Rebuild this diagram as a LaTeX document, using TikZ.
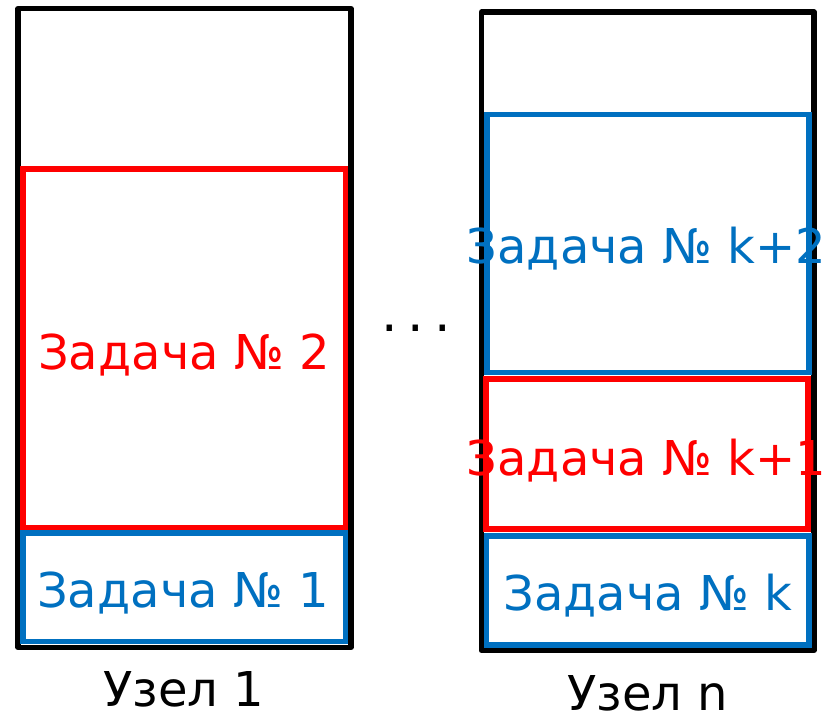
\documentclass[tikz,border=0pt]{standalone}
\usepackage{fontspec}
\setmainfont{DejaVu Sans}
\definecolor{taskblue}{HTML}{0070C0}
\definecolor{taskred}{HTML}{FF0000}
\tikzset{
  nodebox/.style={draw=black, line width=5.2pt, line join=round},
  bluebox/.style={draw=taskblue, line width=5.2pt},
  redbox/.style={draw=taskred, line width=5.2pt},
  tasktext/.style={anchor=base, inner sep=0pt, font=\fontsize{48}{58}\selectfont},
}
\begin{document}
\begin{tikzpicture}[x=1pt, y=-1pt]
\useasboundingbox (0,0) rectangle (825,715);
% node 1
\draw[nodebox] (18,8.5) rectangle (351,647.5);
\draw[redbox] (23,169) rectangle (345.5,527.5);
\draw[bluebox] (23,533) rectangle (345.5,641.5);
\node[tasktext, text=taskred] (t2) at (184,369) {Задача № 2};
\node[tasktext, text=taskblue] (t1) at (183,607) {Задача № 1};
\node[tasktext] (n1) at (184,706) {Узел 1};
% ellipsis between the nodes
\node[tasktext, font=\fontsize{52}{60}\selectfont] (dots) at (416,331) {.\hspace{10pt}.\hspace{10pt}.};
% node n
\draw[nodebox] (481.5,12) rectangle (814,650.5);
\draw[bluebox] (487,114.5) rectangle (809,372.5);
\draw[redbox] (486,379) rectangle (808,529);
\draw[bluebox] (486.5,536) rectangle (809,645);
\node[tasktext, text=taskblue] (tk2) at (646.5,263) {Задача № k+2};
\node[tasktext, text=taskred] (tk1) at (646.5,475) {Задача № k+1};
\node[tasktext, text=taskblue] (tk) at (648,610) {Задача № k};
\node[tasktext] (nn) at (648,710) {Узел n};
\end{tikzpicture}
\end{document}
